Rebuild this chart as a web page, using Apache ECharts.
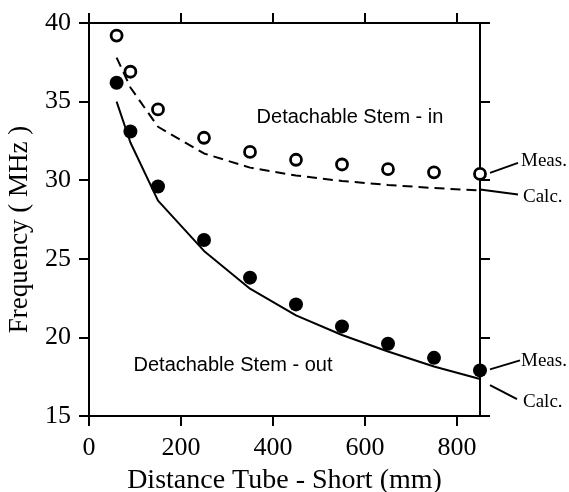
<!DOCTYPE html>
<html>
<head>
<meta charset="utf-8">
<script src="https://cdn.jsdelivr.net/npm/echarts@6/dist/echarts.min.js"></script>
<style>
  html, body { margin: 0; padding: 0; background: #fff; }
  #main { width: 569px; height: 492px; }
</style>
</head>
<body>
<div id="main"></div>
<script>
// distance tube - short (mm)
var distances = [60, 90, 150, 250, 350, 450, 550, 650, 750, 850];
// stem in
var measIn = [39.2, 36.9, 34.5, 32.7, 31.8, 31.3, 31.0, 30.7, 30.5, 30.4];
var calcIn = [37.8, 35.9, 33.4, 31.7, 30.8, 30.3, 29.95, 29.7, 29.5, 29.35];
// stem out
var measOut = [36.2, 33.1, 29.6, 26.2, 23.8, 22.1, 20.7, 19.6, 18.7, 17.9];
var calcOut = [35.0, 32.4, 28.7, 25.5, 23.1, 21.4, 20.15, 19.1, 18.15, 17.35];
var xTicks = [0, 200, 400, 600, 800];

function pairs(ys) {
    return distances.map(function(x, i) { return [x, ys[i]]; });
}

var serif = '"Liberation Serif", "Times New Roman", serif';
var sans = '"Liberation Sans", Arial, sans-serif';

var chart = echarts.init(document.getElementById('main'));

var axisLine = { show: true, onZero: false, lineStyle: { color: '#000', width: 2 } };
var axisTick = { show: true, inside: false, length: 10, lineStyle: { color: '#000', width: 2 } };

var option = {
    backgroundColor: '#fff',
    animation: false,
    grid: { left: 89, right: 89, top: 23, bottom: 76, outerBoundsMode: 'none', containLabel: false },
    xAxis: [{
        type: 'value',
        position: 'bottom',
        min: 0,
        max: 850,
        interval: 200,
        name: 'Distance Tube - Short (mm)',
        nameLocation: 'middle',
        nameGap: 51,
        nameTextStyle: { fontFamily: serif, fontSize: 28, color: '#000' },
        axisLine: axisLine,
        axisTick: { show: true, length: 10, customValues: xTicks, lineStyle: { color: '#000', width: 2 } },
        axisLabel: { customValues: xTicks, fontFamily: serif, fontSize: 26, color: '#000', margin: 19 },
        splitLine: { show: false }
    }, {
        type: 'value',
        position: 'top',
        min: 0,
        max: 850,
        interval: 200,
        axisLine: axisLine,
        axisTick: { show: true, length: 10, customValues: xTicks, lineStyle: { color: '#000', width: 2 } },
        axisLabel: { show: false },
        splitLine: { show: false }
    }],
    yAxis: [{
        type: 'value',
        position: 'left',
        min: 15,
        max: 40,
        interval: 5,
        name: 'Frequency ( MHz )',
        nameLocation: 'middle',
        nameRotate: 90,
        nameGap: 56,
        nameTextStyle: { fontFamily: serif, fontSize: 27, color: '#000', padding: [0, 20, 0, 0] },
        axisLine: axisLine,
        axisTick: axisTick,
        axisLabel: { fontFamily: serif, fontSize: 26, color: '#000', margin: 18 },
        splitLine: { show: false }
    }, {
        type: 'value',
        position: 'right',
        min: 15,
        max: 40,
        interval: 5,
        axisLine: axisLine,
        axisTick: axisTick,
        axisLabel: { show: false },
        splitLine: { show: false }
    }],
    series: [{
        name: 'Calc. in',
        type: 'line',
        data: pairs(calcIn),
        showSymbol: false,
        symbol: 'none',
        lineStyle: { color: '#000', width: 2, type: [10, 6] },
        z: 2
    }, {
        name: 'Calc. out',
        type: 'line',
        data: pairs(calcOut),
        showSymbol: false,
        symbol: 'none',
        lineStyle: { color: '#000', width: 2 },
        z: 2
    }, {
        name: 'Meas. in',
        type: 'scatter',
        data: pairs(measIn),
        symbol: 'circle',
        symbolSize: 11,
        itemStyle: { color: '#fff', borderColor: '#000', borderWidth: 2.8, opacity: 1 },
        z: 3
    }, {
        name: 'Meas. out',
        type: 'scatter',
        data: pairs(measOut),
        symbol: 'circle',
        symbolSize: 14,
        itemStyle: { color: '#000', opacity: 1 },
        z: 3
    }]
};

chart.setOption(option);

// annotations, anchored to the last points
var last = distances.length - 1;
function px(ys) {
    return chart.convertToPixel({ xAxisIndex: 0, yAxisIndex: 0 }, [distances[last], ys[last]]);
}
var pMi = px(measIn), pCi = px(calcIn), pMo = px(measOut), pCo = px(calcOut);

function leader(p, a, b) {
    return {
        type: 'line',
        shape: { x1: p[0] + a[0], y1: p[1] + a[1], x2: p[0] + b[0], y2: p[1] + b[1] },
        style: { stroke: '#000', lineWidth: 2 }
    };
}
function note(p, off, txt) {
    return {
        type: 'text',
        x: p[0] + off[0],
        y: p[1] + off[1],
        style: { text: txt, fontFamily: serif, fontSize: 19, fill: '#000', verticalAlign: 'middle', align: 'left' }
    };
}

chart.setOption({
    graphic: [
        leader(pMi, [10, -1], [38, -11]),
        note(pMi, [41, -13], 'Meas.'),
        leader(pCi, [0, -1], [38, 4]),
        note(pCi, [43, 7], 'Calc.'),
        leader(pMo, [10, -1], [40, -10]),
        note(pMo, [41, -9], 'Meas.'),
        leader(pCo, [10, 6], [37, 20]),
        note(pCo, [43, 23], 'Calc.'),
        {
            type: 'text', x: 350, y: 117,
            style: { text: 'Detachable Stem - in', fontFamily: sans, fontSize: 20, fill: '#000', align: 'center', verticalAlign: 'middle' }
        },
        {
            type: 'text', x: 233, y: 365,
            style: { text: 'Detachable Stem - out', fontFamily: sans, fontSize: 20, fill: '#000', align: 'center', verticalAlign: 'middle' }
        }
    ]
});
</script>
</body>
</html>
